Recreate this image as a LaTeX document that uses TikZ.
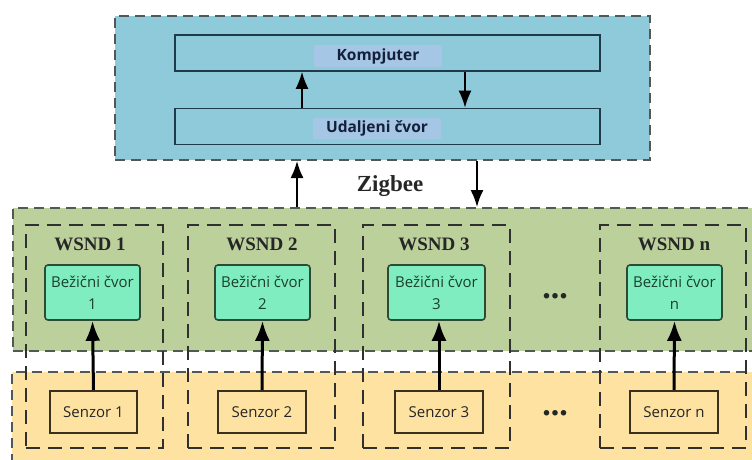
\documentclass[tikz,border=0pt]{standalone}
\usepackage{fontspec}
\setmainfont{Liberation Serif}
\newfontfamily\uisans{Open Sans}
\usetikzlibrary{arrows.meta}
\definecolor{bluefill}{HTML}{8ECAD9}
\definecolor{hlblue}{HTML}{A5C6E4}
\definecolor{navy}{HTML}{14203A}
\definecolor{boxline}{HTML}{1F3A48}
\definecolor{greenfill}{HTML}{BCD09C}
\definecolor{mint}{HTML}{7FEDBF}
\definecolor{mintline}{HTML}{2D4A35}
\definecolor{minttext}{HTML}{1A4030}
\definecolor{yellowfill}{HTML}{FDE2A2}
\definecolor{senzline}{HTML}{3A3020}
\definecolor{outerline}{HTML}{505858}
\definecolor{wsndline}{HTML}{303030}
\tikzset{
  outerdash/.style={draw=outerline, line width=2pt, dash pattern=on 10pt off 6pt},
  pcbox/.style={draw=boxline, line width=1.6pt, fill=bluefill, minimum width=425pt, minimum height=36pt, inner sep=0pt},
  hlbox/.style={fill=hlblue, rounded corners=2pt, minimum width=128pt, minimum height=22pt, inner sep=0pt,
    font=\uisans\bfseries\fontsize{15.5}{17}\selectfont, text=navy},
  wsndbox/.style={draw=wsndline, line width=2.2pt, dash pattern=on 14pt off 8pt, minimum width=#1, minimum height=223pt, inner sep=0pt},
  wsndlabel/.style={font=\bfseries\fontsize{19}{21}\selectfont, text=black!85, inner sep=0pt},
  nodebox/.style={draw=mintline, fill=mint, line width=1.6pt, rounded corners=3pt, minimum width=#1, minimum height=55pt,
    inner sep=0pt, align=center, font=\uisans\fontsize{15}{22}\selectfont, text=minttext},
  senzbox/.style={draw=senzline, fill=yellowfill, line width=2pt, minimum width=#1, minimum height=42pt, inner sep=0pt,
    font=\uisans\fontsize{15}{17}\selectfont, text=black!85},
  thinarr/.style={draw=black, line width=1.8pt, -{Latex[length=17pt,width=13pt]}},
  thickarr/.style={draw=black, line width=3pt, -{Latex[length=20pt,width=15pt]}},
  dots/.style={font=\bfseries\fontsize{34}{36}\selectfont, inner sep=0pt, text=black!85}
}
\begin{document}
\begin{tikzpicture}[x=1pt,y=-1pt]
\useasboundingbox (0,0) rectangle (752,460);
\begin{scope}
\clip (0,0) rectangle (752,460);
% yellow band
\fill[yellowfill] (12,372) rectangle (770,480);
\coordinate (ytl) at (12,372);
\coordinate (ybl) at (12,480);
\coordinate (ytr) at (770,372);
\draw[outerdash] (ybl) -- (ytl) -- (ytr);
% green band
\node[outerdash, fill=greenfill, anchor=north west, minimum width=760pt, minimum height=143pt, inner sep=0pt] (green) at (12,207) {};
\end{scope}

% blue box
\node[outerdash, fill=bluefill, anchor=north west, minimum width=535pt, minimum height=144pt, inner sep=0pt] (blue) at (114,15) {};
\node[pcbox] (pc) at (387.5,53) {};
\node[pcbox] (udal) at (387.5,126.5) {};
\node[hlbox] (pclabel) at (378,56) {Kompjuter};
\node[hlbox] (udallabel) at (377,128.5) {Udaljeni čvor};

\coordinate (xa) at (302,0);
\coordinate (xb) at (465,0);
\draw[thinarr] (xa |- udal.north) -- (xa |- pc.south);
\draw[thinarr] (xb |- pc.south) -- (xb |- udal.north);

% zigbee
\coordinate (xc) at (297,0);
\coordinate (xd) at (477,0);
\draw[thinarr] (xc |- green.north) -- (xc |- blue.south);
\draw[thinarr] (xd |- blue.south) -- (xd |- green.north);
\node[font=\bfseries\fontsize{23}{25}\selectfont, text=black!85, inner sep=0pt] (zig) at (390,186) {Zigbee};

% WSND groups
\node[wsndbox=137pt] (w1) at (94.5,336.5) {};
\node[wsndbox=147pt] (w2) at (261.5,336.5) {};
\node[wsndbox=147pt] (w3) at (436.5,336.5) {};
\node[wsndbox=146pt] (wn) at (673,336.5) {};

\node[wsndlabel] (l1) at (90,244) {WSND 1};
\node[wsndlabel] (l2) at (262,244) {WSND 2};
\node[wsndlabel] (l3) at (434,244) {WSND 3};
\node[wsndlabel] (ln) at (674,244) {WSND n};

\node[nodebox=95pt] (b1) at (92.5,292.5) {Bežični čvor\\1};
\node[nodebox=95pt] (b2) at (262.5,292.5) {Bežični čvor\\2};
\node[nodebox=97pt] (b3) at (436.5,292.5) {Bežični čvor\\3};
\node[nodebox=95pt] (bn) at (674.5,292.5) {Bežični čvor\\n};

\node[senzbox=87pt] (s1) at (93.5,412) {Senzor 1};
\node[senzbox=88pt] (s2) at (262,412) {Senzor 2};
\node[senzbox=88pt] (s3) at (439,412) {Senzor 3};
\node[senzbox=88pt] (sn) at (674,412) {Senzor n};

\draw[thickarr] (s1.north) -- (b1.south);
\draw[thickarr] (s2.north) -- (b2.south);
\draw[thickarr] (s3.north) -- (s3.north |- b3.south);
\draw[thickarr] (sn.north) -- (bn.south);

\node[dots] (d1) at (555,296) {...};
\node[dots] (d2) at (555,413) {...};
\end{tikzpicture}
\end{document}
